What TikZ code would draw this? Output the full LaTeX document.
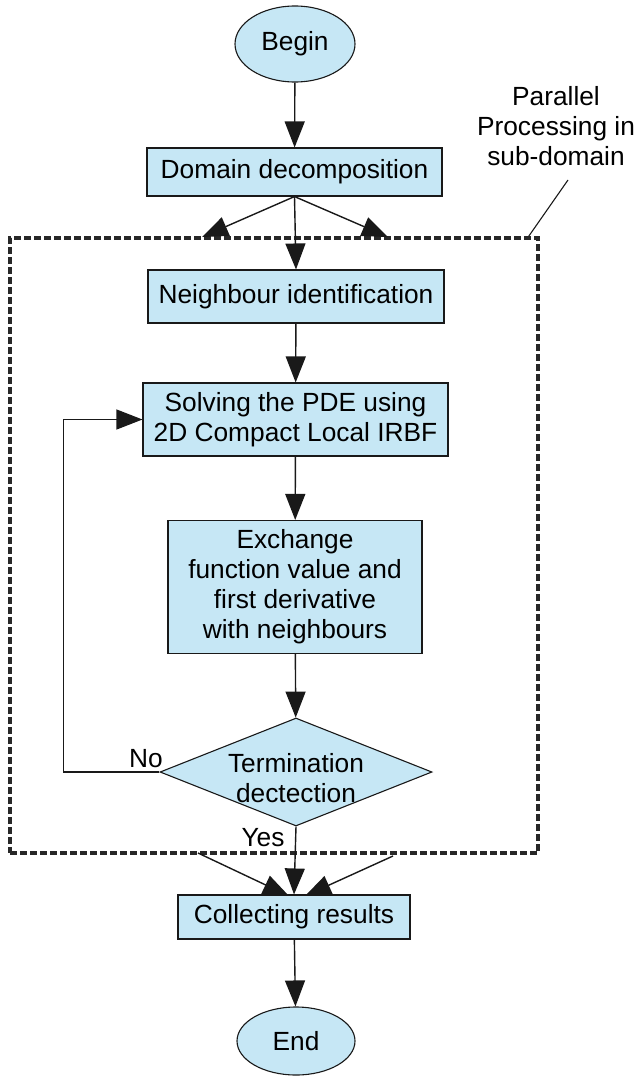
\documentclass[tikz,border=0pt]{standalone}
\usepackage{fontspec}
\setmainfont{Liberation Sans}
\usetikzlibrary{shapes.geometric,arrows.meta,calc}
\definecolor{boxblue}{RGB}{198,231,245}
\definecolor{edgec}{RGB}{25,25,25}
\definecolor{dashc}{RGB}{40,40,40}
\begin{document}
\begin{tikzpicture}[x=1pt,y=-1pt,
  every node/.style={font=\fontsize{26.3}{30}\selectfont, text=black, align=center},
  proc/.style={draw=edgec, fill=boxblue, line width=1.1pt, rectangle, inner sep=0pt},
  term/.style={draw=edgec, fill=boxblue, line width=1.1pt, ellipse, inner sep=0pt},
  dec/.style={draw=edgec, fill=boxblue, line width=1.1pt, diamond, inner sep=0pt},
  arr/.style={draw=edgec, line width=1.4pt, -{Triangle[length=26pt,width=20pt]}},
  thinline/.style={draw=edgec, line width=1.1pt},
  dashbox/.style={draw=dashc, line width=3.3pt, dash pattern=on 7pt off 3pt, rectangle, inner sep=0pt},
  ]
\useasboundingbox (0,0) rectangle (636,1076);

% container
\node[dashbox, minimum width=528, minimum height=615] (pp) at (274,545.5) {};

% nodes
\node[term, minimum width=120, minimum height=76] (begin) at (295,44) {Begin};
\node[proc, minimum width=295, minimum height=48] (domain) at (294.5,172) {Domain decomposition};
\node[proc, minimum width=296, minimum height=53] (neigh) at (296,296.5) {Neighbour identification};
\node[proc, minimum width=305, minimum height=73] (solve) at (295.5,419.5) {Solving the PDE using\\2D Compact Local IRBF};
\node[proc, minimum width=254, minimum height=133] (exch) at (295,587) {Exchange\\function value and\\first derivative\\with neighbours};
\node[dec, minimum width=272, minimum height=108] (termd) at (296,772) {};
\node (termt) at (296,778) {Termination\\dectection};
\node[proc, minimum width=232, minimum height=44] (collect) at (294,917) {Collecting results};
\node[term, minimum width=118, minimum height=68] (end) at (296,1041) {End};

\node (lbl) at (556,126) {Parallel\\Processing in\\sub-domain};
\node (no) at (146,759) {No};
\node (yes) at (263,838) {Yes};

% coordinates
\coordinate (fanL) at (202,237);
\coordinate (fanR) at (388,237);
\coordinate (inL) at (198,853);
\coordinate (inR) at (393,856);
\coordinate (tipL) at (289,896);
\coordinate (tipR) at (305,896);
\coordinate (lead) at (568,180);

% connectors
\draw[arr] (begin) -- (domain);
\draw[arr] (domain.south) -- (fanL);
\draw[arr] (domain.south) -- (fanR);
\draw[arr] (domain.south) -- (neigh.north);
\draw[arr] (neigh) -- (solve);
\draw[arr] (solve) -- (exch);
\draw[arr] (exch) -- (termd);
\draw[arr, line width=1.1pt] (termd.west) -- ++(-96,0) |- (solve.west);
\draw[arr] (termd.south) -- (collect.north);
\draw[arr] (inL) -- (tipL);
\draw[arr] (inR) -- (tipR);
\draw[arr] (collect) -- (end);
\draw[thinline] (lead) -- ($(pp.north east)+(-11,0)$);
\end{tikzpicture}
\end{document}
